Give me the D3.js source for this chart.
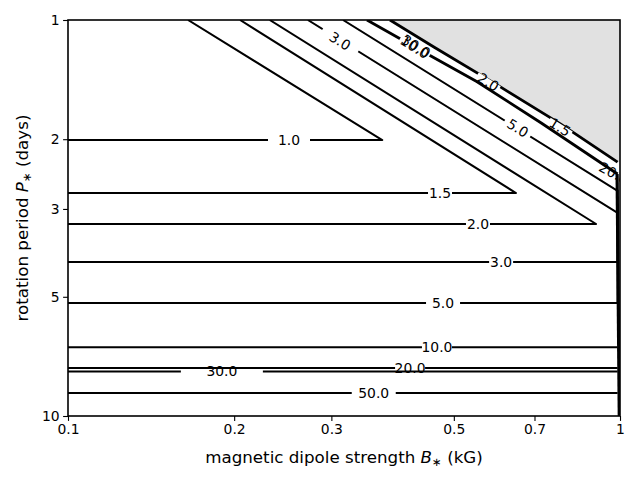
<!DOCTYPE html>
<html><head><meta charset="utf-8">
<script src="https://cdn.jsdelivr.net/npm/d3@7/dist/d3.min.js"></script>
<style>body{margin:0;background:#fff} text{font-family:"DejaVu Sans",sans-serif}</style>
</head><body><svg id="c" width="640" height="480"></svg>
<script>
// ---- data ----
const xTicks = [0.1, 0.2, 0.3, 0.5, 0.7, 1];
const xTickLabels = ["0.1", "0.2", "0.3", "0.5", "0.7", "1"];
const yTicks = [1, 2, 3, 5, 10];
const yTickLabels = ["1", "2", "3", "5", "10"];
const levels = [1.0, 1.5, 2.0, 3.0, 5.0, 10.0, 20.0, 30.0, 50.0];
// contour polylines as [B (kG), P (days)]
const contour_1_0 = [[0.1, 2.01], [0.371, 2.01], [0.165, 1]];
const contour_1_5 = [[0.1, 2.735], [0.648, 2.735], [0.205, 1]];
const contour_2_0 = [[0.1, 3.275], [0.905, 3.275], [0.232, 1]];
const contour_3_0 = [[0.1, 4.085], [0.99, 4.085], [0.99, 3.07], [0.272, 1]];
const contour_5_0 = [[0.1, 5.18], [0.99, 5.18], [0.99, 2.70], [0.315, 1]];
const contour_10_0 = [[0.1, 6.70], [0.99, 6.70]];
const contour_20_0 = [[0.1, 7.565], [0.99, 7.565]];
const contour_30_0 = [[0.1, 7.72], [0.99, 7.72]];
const contour_50_0 = [[0.1, 8.75], [0.99, 8.75]];
// bunched contours along the jumps
const ridgeLower = [[0.348, 1], [0.42, 1.16], [0.55, 1.43], [0.72, 1.82], [0.99, 2.448]];
const ridgeUpper = [[0.383, 1], [0.46, 1.17], [0.60, 1.46], [0.78, 1.83], [0.99, 2.284]];
const ridgeRight = [[0.988, 2.448], [0.997, 10]];
const shadedRegion = [[0.383, 1], [0.46, 1.17], [0.60, 1.46], [0.78, 1.83], [0.99, 2.284], [1, 2.284], [1, 1]];
// contour labels: text, B, P, rotation (deg), gap width (px), gap height (px)
const labelText = ["1.0", "1.5", "2.0", "3.0", "5.0", "10.0", "20.0", "30.0", "50.0", "3.0", "5.0", "10.0", "30.0", "2.0", "1.5", "20.0"];
const labelB = [0.2514, 0.472, 0.553, 0.609, 0.478, 0.466, 0.4166, 0.190, 0.358, 0.311, 0.653, 0.425, 0.427, 0.577, 0.779, 0.955];
const labelP = [2.01, 2.735, 3.275, 4.085, 5.18, 6.70, 7.565, 7.69, 8.75, 1.13, 1.874, 1.17, 1.165, 1.434, 1.864, 2.40];
const labelAngle = [0, 0, 0, 0, 0, 0, 0, 0, 0, 32, 32, 32, 32, 32, 32, 28];
const labelGap = [42, 24, 24, 24, 34, 30, 30, 82, 44, 42, 30, 34, 0, 26, 26, 0];
const labelGapH = [6, 6, 6, 6, 6, 6, 3, 3, 6, 6, 6, 6, 0, 6, 6, 0];

// ---- layout ----
const svg = d3.select("#c");
const x = d3.scaleLog().domain([0.1, 1]).range([68, 620]);
const y = d3.scaleLog().domain([1, 10]).range([20, 416]);
const line = d3.line().x(d => x(d[0])).y(d => y(d[1]));

svg.append("defs").append("clipPath").attr("id", "plotclip")
  .append("rect").attr("x", 68).attr("y", 20).attr("width", 552).attr("height", 396);
const g = svg.append("g").attr("clip-path", "url(#plotclip)");

g.append("path").attr("d", line(shadedRegion) + "Z").attr("fill", "#e1e1e1").attr("stroke", "none");

const contours = [contour_1_0, contour_1_5, contour_2_0, contour_3_0, contour_5_0,
                  contour_10_0, contour_20_0, contour_30_0, contour_50_0];
const gapRects = [];
contours.forEach((c, i) => {
  g.append("path").attr("class", "lvl-" + levels[i]).attr("d", line(c))
    .attr("fill", "none").attr("stroke", "#000").attr("stroke-width", 2).attr("stroke-linejoin", "round");
});
[ridgeLower, ridgeUpper].forEach(c => {
  g.append("path").attr("d", line(c)).attr("fill", "none").attr("stroke", "#000")
    .attr("stroke-width", 2.8).attr("stroke-linejoin", "round");
});
g.append("path").attr("d", line(ridgeRight)).attr("fill", "none").attr("stroke", "#000").attr("stroke-width", 3.2);

// label gaps (white strips over the own line) then labels
labelText.forEach((t, i) => {
  if (labelGap[i] <= 0) return;
  const lp = i === 7 ? 7.72 : labelP[i];
  g.append("g").attr("transform", `translate(${x(labelB[i])},${y(lp)}) rotate(${labelAngle[i]})`)
    .append("rect").attr("x", -labelGap[i] / 2).attr("y", -labelGapH[i] / 2)
    .attr("width", labelGap[i]).attr("height", labelGapH[i]).attr("fill", "#fff");
});
labelText.forEach((t, i) => {
  const lg = g.append("g").attr("transform", `translate(${x(labelB[i])},${y(labelP[i])}) rotate(${labelAngle[i]})`);
  lg.append("text").attr("text-anchor", i === 15 ? "start" : "middle").attr("x", i === 15 ? -10 : 0)
    .attr("dy", "0.36em").attr("font-size", 13.9).attr("fill", "#000").text(t);
});

// axes
const xAxis = d3.axisBottom(x).tickValues(xTicks).tickFormat((d, i) => xTickLabels[i]).tickSize(4.9).tickPadding(3.5).tickSizeOuter(0);
const yAxis = d3.axisLeft(y).tickValues(yTicks).tickFormat((d, i) => yTickLabels[i]).tickSize(4.9).tickPadding(3.5).tickSizeOuter(0);
const gx = svg.append("g").attr("transform", "translate(0,416)").call(xAxis);
const gy = svg.append("g").attr("transform", "translate(68,0)").call(yAxis);
[gx, gy].forEach(a => {
  a.select(".domain").remove();
  a.selectAll("line").attr("stroke", "#000").attr("stroke-width", 1.1);
  a.selectAll("text").attr("font-size", 13.9).attr("fill", "#000").attr("font-family", "DejaVu Sans");
});
svg.append("rect").attr("x", 68).attr("y", 20).attr("width", 552).attr("height", 396)
  .attr("fill", "none").attr("stroke", "#000").attr("stroke-width", 1.6);

// axis titles
const xl = svg.append("text").attr("x", 344).attr("y", 463).attr("text-anchor", "middle").attr("font-size", 16.7);
xl.append("tspan").text("magnetic dipole strength ");
xl.append("tspan").attr("font-style", "italic").text("B");
xl.append("tspan").attr("font-size", 11.7).attr("dy", 3).text("\u2217");
xl.append("tspan").attr("dy", -3).text(" (kG)");
const yl = svg.append("text").attr("transform", "translate(28,218) rotate(-90)").attr("text-anchor", "middle").attr("font-size", 16.7);
yl.append("tspan").text("rotation period ");
yl.append("tspan").attr("font-style", "italic").text("P");
yl.append("tspan").attr("font-size", 11.7).attr("dy", 3).text("\u2217");
yl.append("tspan").attr("dy", -3).text(" (days)");
</script></body></html>
